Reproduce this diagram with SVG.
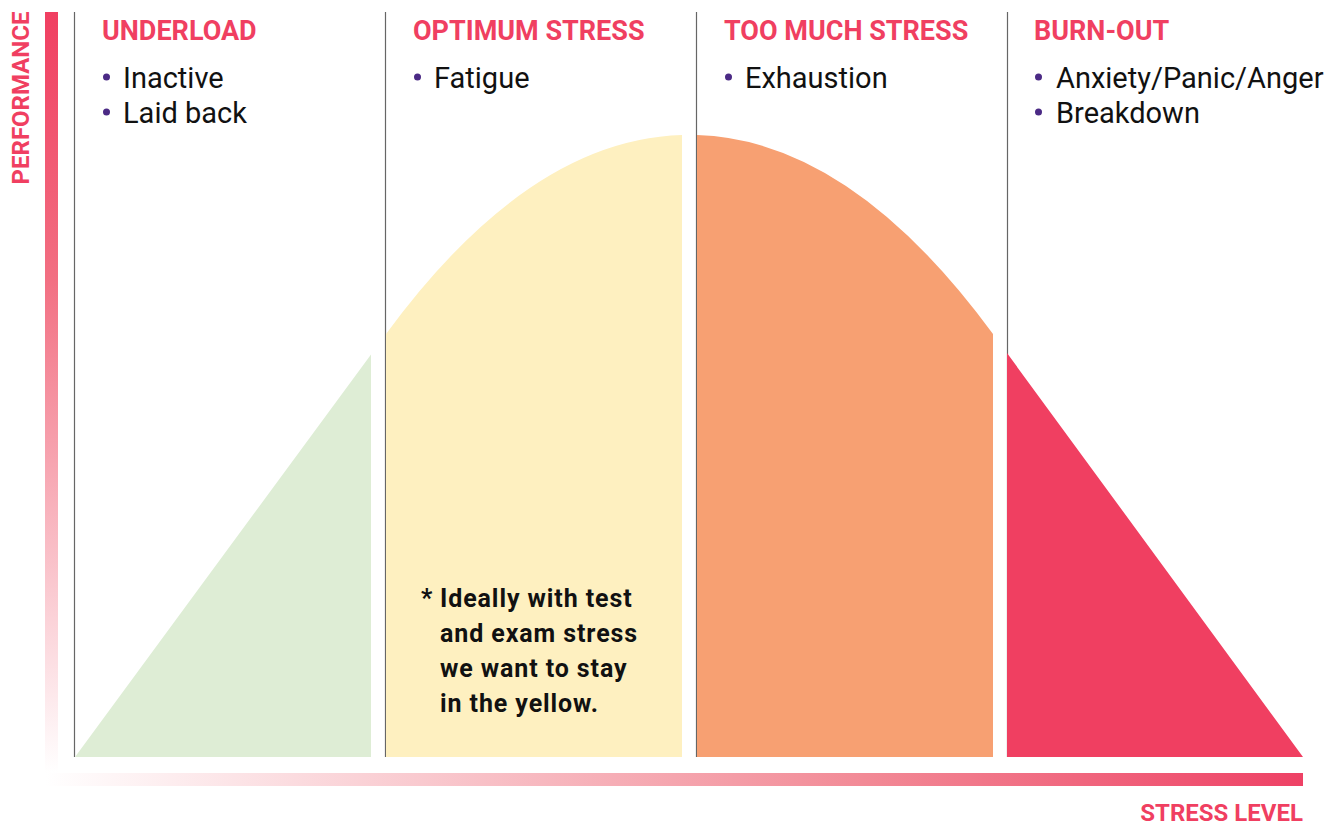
<svg xmlns="http://www.w3.org/2000/svg" width="1338" height="824" viewBox="0 0 1338 824">
<style>
.hdr{font-family:Roboto,"Liberation Sans",sans-serif;font-weight:700;font-size:27px;fill:#f03f61}
.item{font-family:Roboto,"Liberation Sans",sans-serif;font-size:29px;fill:#111}
.dot{fill:#4b2a85}
.axis{font-family:Roboto,"Liberation Sans",sans-serif;font-weight:700;font-size:24px;fill:#f03f61}
.note{font-family:Roboto,"Liberation Sans",sans-serif;font-weight:700;font-size:25px;letter-spacing:0.9px;fill:#111}
.div{stroke:#666;stroke-width:1.2}
</style>
<defs>
<linearGradient id="gv" x1="0" y1="0" x2="0" y2="1">
<stop offset="0" stop-color="#f03f61"/><stop offset="0.35" stop-color="#f26f82"/><stop offset="1" stop-color="#ffffff"/>
</linearGradient>
<linearGradient id="gh" x1="0" y1="0" x2="1" y2="0">
<stop offset="0" stop-color="#ffffff"/><stop offset="0.65" stop-color="#f28a96"/><stop offset="1" stop-color="#ee4165"/>
</linearGradient>
<path id="bell" d="M75,757 L386,334 Q532,135 689.5,135 Q847,135 993,334 L1303,757 Z"/>
<clipPath id="c1"><rect x="75" y="0" width="296" height="757"/></clipPath>
<clipPath id="c2"><rect x="386" y="0" width="296" height="757"/></clipPath>
<clipPath id="c3"><rect x="697" y="0" width="296" height="757"/></clipPath>
<clipPath id="c4"><rect x="1007" y="0" width="296" height="757"/></clipPath>
</defs>
<rect width="1338" height="824" fill="#ffffff"/>
<g id="axes">
<rect x="45" y="12" width="13" height="761" fill="url(#gv)"/>
<rect x="45" y="773" width="1258" height="13" fill="url(#gh)"/>
<text class="axis" transform="translate(29,98) rotate(-90)" text-anchor="middle">PERFORMANCE</text>
<text class="axis" x="1303" y="821" text-anchor="end">STRESS LEVEL</text>
</g>
<g id="connectors">
<line class="div" x1="74.5" y1="12" x2="74.5" y2="757"/>
<line class="div" x1="385.5" y1="12" x2="385.5" y2="757"/>
<line class="div" x1="696.5" y1="12" x2="696.5" y2="757"/>
<line class="div" x1="1007.5" y1="12" x2="1007.5" y2="757"/>
</g>
<g id="underload">
<use href="#bell" clip-path="url(#c1)" fill="#deedd5"/>
<text class="hdr" x="102" y="40">UNDERLOAD</text>
<circle class="dot" cx="106.5" cy="77" r="3.5"/>
<text class="item" x="123" y="88">Inactive</text>
<circle class="dot" cx="106.5" cy="112" r="3.5"/>
<text class="item" x="123" y="123">Laid back</text>
</g>
<g id="optimum">
<use href="#bell" clip-path="url(#c2)" fill="#fef0c0"/>
<text class="hdr" x="413" y="40">OPTIMUM STRESS</text>
<circle class="dot" cx="417.5" cy="77" r="3.5"/>
<text class="item" x="434" y="88">Fatigue</text>
</g>
<g id="toomuch">
<use href="#bell" clip-path="url(#c3)" fill="#f7a072"/>
<text class="hdr" x="724" y="40">TOO MUCH STRESS</text>
<circle class="dot" cx="728.5" cy="77" r="3.5"/>
<text class="item" x="745" y="88">Exhaustion</text>
</g>
<g id="burnout">
<use href="#bell" clip-path="url(#c4)" fill="#f03f61"/>
<text class="hdr" x="1034" y="40">BURN-OUT</text>
<circle class="dot" cx="1038.5" cy="77" r="3.5"/>
<text class="item" x="1056" y="88">Anxiety/Panic/Anger</text>
<circle class="dot" cx="1038.5" cy="112" r="3.5"/>
<text class="item" x="1056" y="123">Breakdown</text>
</g>
<g id="note">
<text class="note" x="421" y="607">*</text>
<text class="note" x="440" y="607">Ideally with test</text>
<text class="note" x="440" y="642">and exam stress</text>
<text class="note" x="440" y="677">we want to stay</text>
<text class="note" x="440" y="712">in the yellow.</text>
</g>
</svg>
